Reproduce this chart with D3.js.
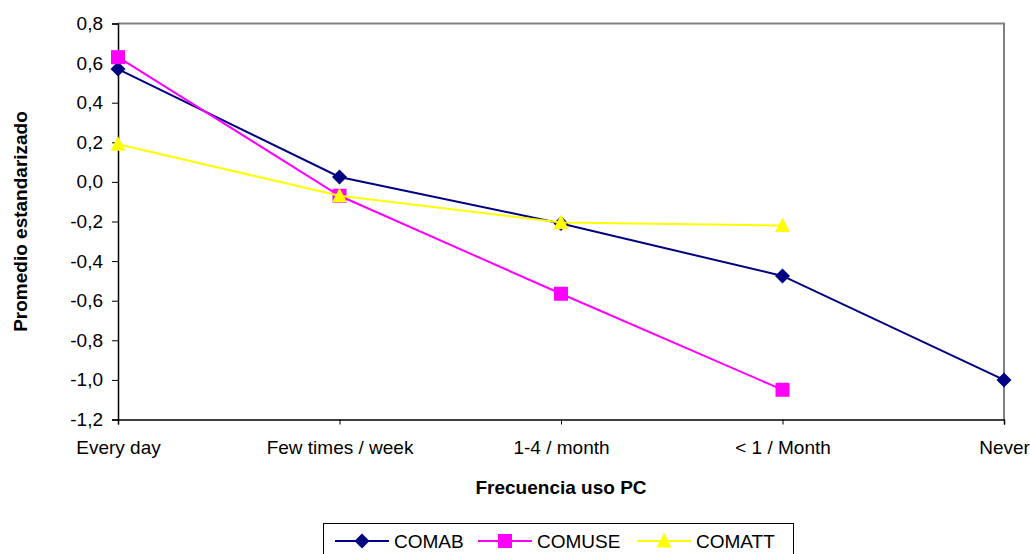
<!DOCTYPE html>
<html>
<head>
<meta charset="utf-8">
<script src="https://cdn.jsdelivr.net/npm/d3@7"></script>
<style>
  body { margin: 0; background: #fff; }
  svg { display: block; font-family: Arial, "Liberation Sans", sans-serif; }
</style>
</head>
<body>
<svg id="chart" width="1030" height="554"></svg>
<script>
// Categories along the x axis
const categories = ["Every day", "Few times / week", "1-4 / month", "< 1 / Month", "Never"];

// Standardised means per series (null = no value)
const comab  = [0.57, 0.025, -0.21, -0.475, -1.00];
const comuse = [0.63, -0.07, -0.565, -1.05, null];
const comatt = [0.19, -0.07, -0.205, -0.22, null];

const seriesNames = ["COMAB", "COMUSE", "COMATT"];
const yTicks = [0.8, 0.6, 0.4, 0.2, 0.0, -0.2, -0.4, -0.6, -0.8, -1.0, -1.2];

// Marker outlines (centred at 0,0)
const diamond  = "M0,-7.5L7.5,0L0,7.5L-7.5,0Z";
const square   = "M-7,-7H7V7H-7Z";
const triangle = "M0,-8L7.5,6.5H-7.5Z";

const series = [
  { name: seriesNames[0], values: comab,  color: "#000080", marker: diamond },
  { name: seriesNames[1], values: comuse, color: "#FF00FF", marker: square },
  { name: seriesNames[2], values: comatt, color: "#FFFF00", marker: triangle }
];

const svg = d3.select("#chart");
const plot = { left: 118, right: 1004, top: 23.5, bottom: 419.5 };
const FONT = 19;

const x = d3.scalePoint().domain(categories).range([plot.left, plot.right]);
const y = d3.scaleLinear().domain([-1.2, 0.8]).range([plot.bottom, plot.top]);

const fmt = v => d3.format(".1f")(v).replace(".", ",").replace("−", "-");

// Plot frame (top and right edges in grey)
svg.append("path")
  .attr("d", `M${plot.left},${plot.top}H${plot.right}V${plot.bottom}`)
  .attr("fill", "none").attr("stroke", "#808080").attr("stroke-width", 2);

// Y axis
const yAxis = svg.append("g")
  .attr("transform", `translate(${plot.left},0)`)
  .call(d3.axisLeft(y).tickValues(yTicks).tickFormat(fmt).tickSize(6).tickPadding(9));
yAxis.select(".domain").attr("stroke", "#000").attr("stroke-width", 1.5);
yAxis.selectAll(".tick line").attr("stroke", "#000");
yAxis.selectAll(".tick text").attr("font-size", FONT).attr("fill", "#000")
  .attr("font-family", "Arial, 'Liberation Sans', sans-serif");

// X axis
const xAxis = svg.append("g")
  .attr("transform", `translate(0,${plot.bottom})`)
  .call(d3.axisBottom(x).tickSize(5).tickPadding(16));
xAxis.select(".domain").attr("stroke", "#000").attr("stroke-width", 1.5);
xAxis.selectAll(".tick line").attr("stroke", "#000");
xAxis.selectAll(".tick text").attr("font-size", FONT).attr("fill", "#000")
  .attr("font-family", "Arial, 'Liberation Sans', sans-serif");

// Axis titles
svg.append("text")
  .attr("x", 561).attr("y", 494)
  .attr("text-anchor", "middle").attr("font-size", FONT).attr("font-weight", "bold")
  .text("Frecuencia uso PC");

svg.append("text")
  .attr("transform", `translate(27,${(plot.top + plot.bottom) / 2}) rotate(-90)`)
  .attr("text-anchor", "middle").attr("font-size", FONT).attr("font-weight", "bold")
  .text("Promedio estandarizado");

// Series lines and markers
const line = d3.line()
  .defined(d => d.v !== null)
  .x(d => x(d.c)).y(d => y(d.v));

series.forEach(s => {
  const pts = s.values.map((v, i) => ({ c: categories[i], v }));
  svg.append("path").datum(pts)
    .attr("d", line).attr("fill", "none")
    .attr("stroke", s.color).attr("stroke-width", 2);
  svg.append("g").selectAll("path")
    .data(pts.filter(d => d.v !== null))
    .join("path")
    .attr("transform", d => `translate(${x(d.c)},${y(d.v)})`)
    .attr("d", s.marker)
    .attr("fill", s.color);
});

// Legend
const legend = svg.append("g");
legend.append("rect")
  .attr("x", 323.5).attr("y", 523.5).attr("width", 470).attr("height", 32)
  .attr("fill", "#fff").attr("stroke", "#000").attr("stroke-width", 1);

const legendX = [335, 478, 637];
series.forEach((s, i) => {
  const g = legend.append("g").attr("transform", `translate(${legendX[i]},541)`);
  g.append("line").attr("x1", 0).attr("x2", 54).attr("y1", 0).attr("y2", 0)
    .attr("stroke", s.color).attr("stroke-width", 2);
  g.append("path").attr("transform", "translate(27,0)")
    .attr("d", s.marker).attr("fill", s.color);
  g.append("text").attr("x", 59).attr("y", 7)
    .attr("font-size", FONT).attr("fill", "#000").text(s.name);
});
</script>
</body>
</html>
